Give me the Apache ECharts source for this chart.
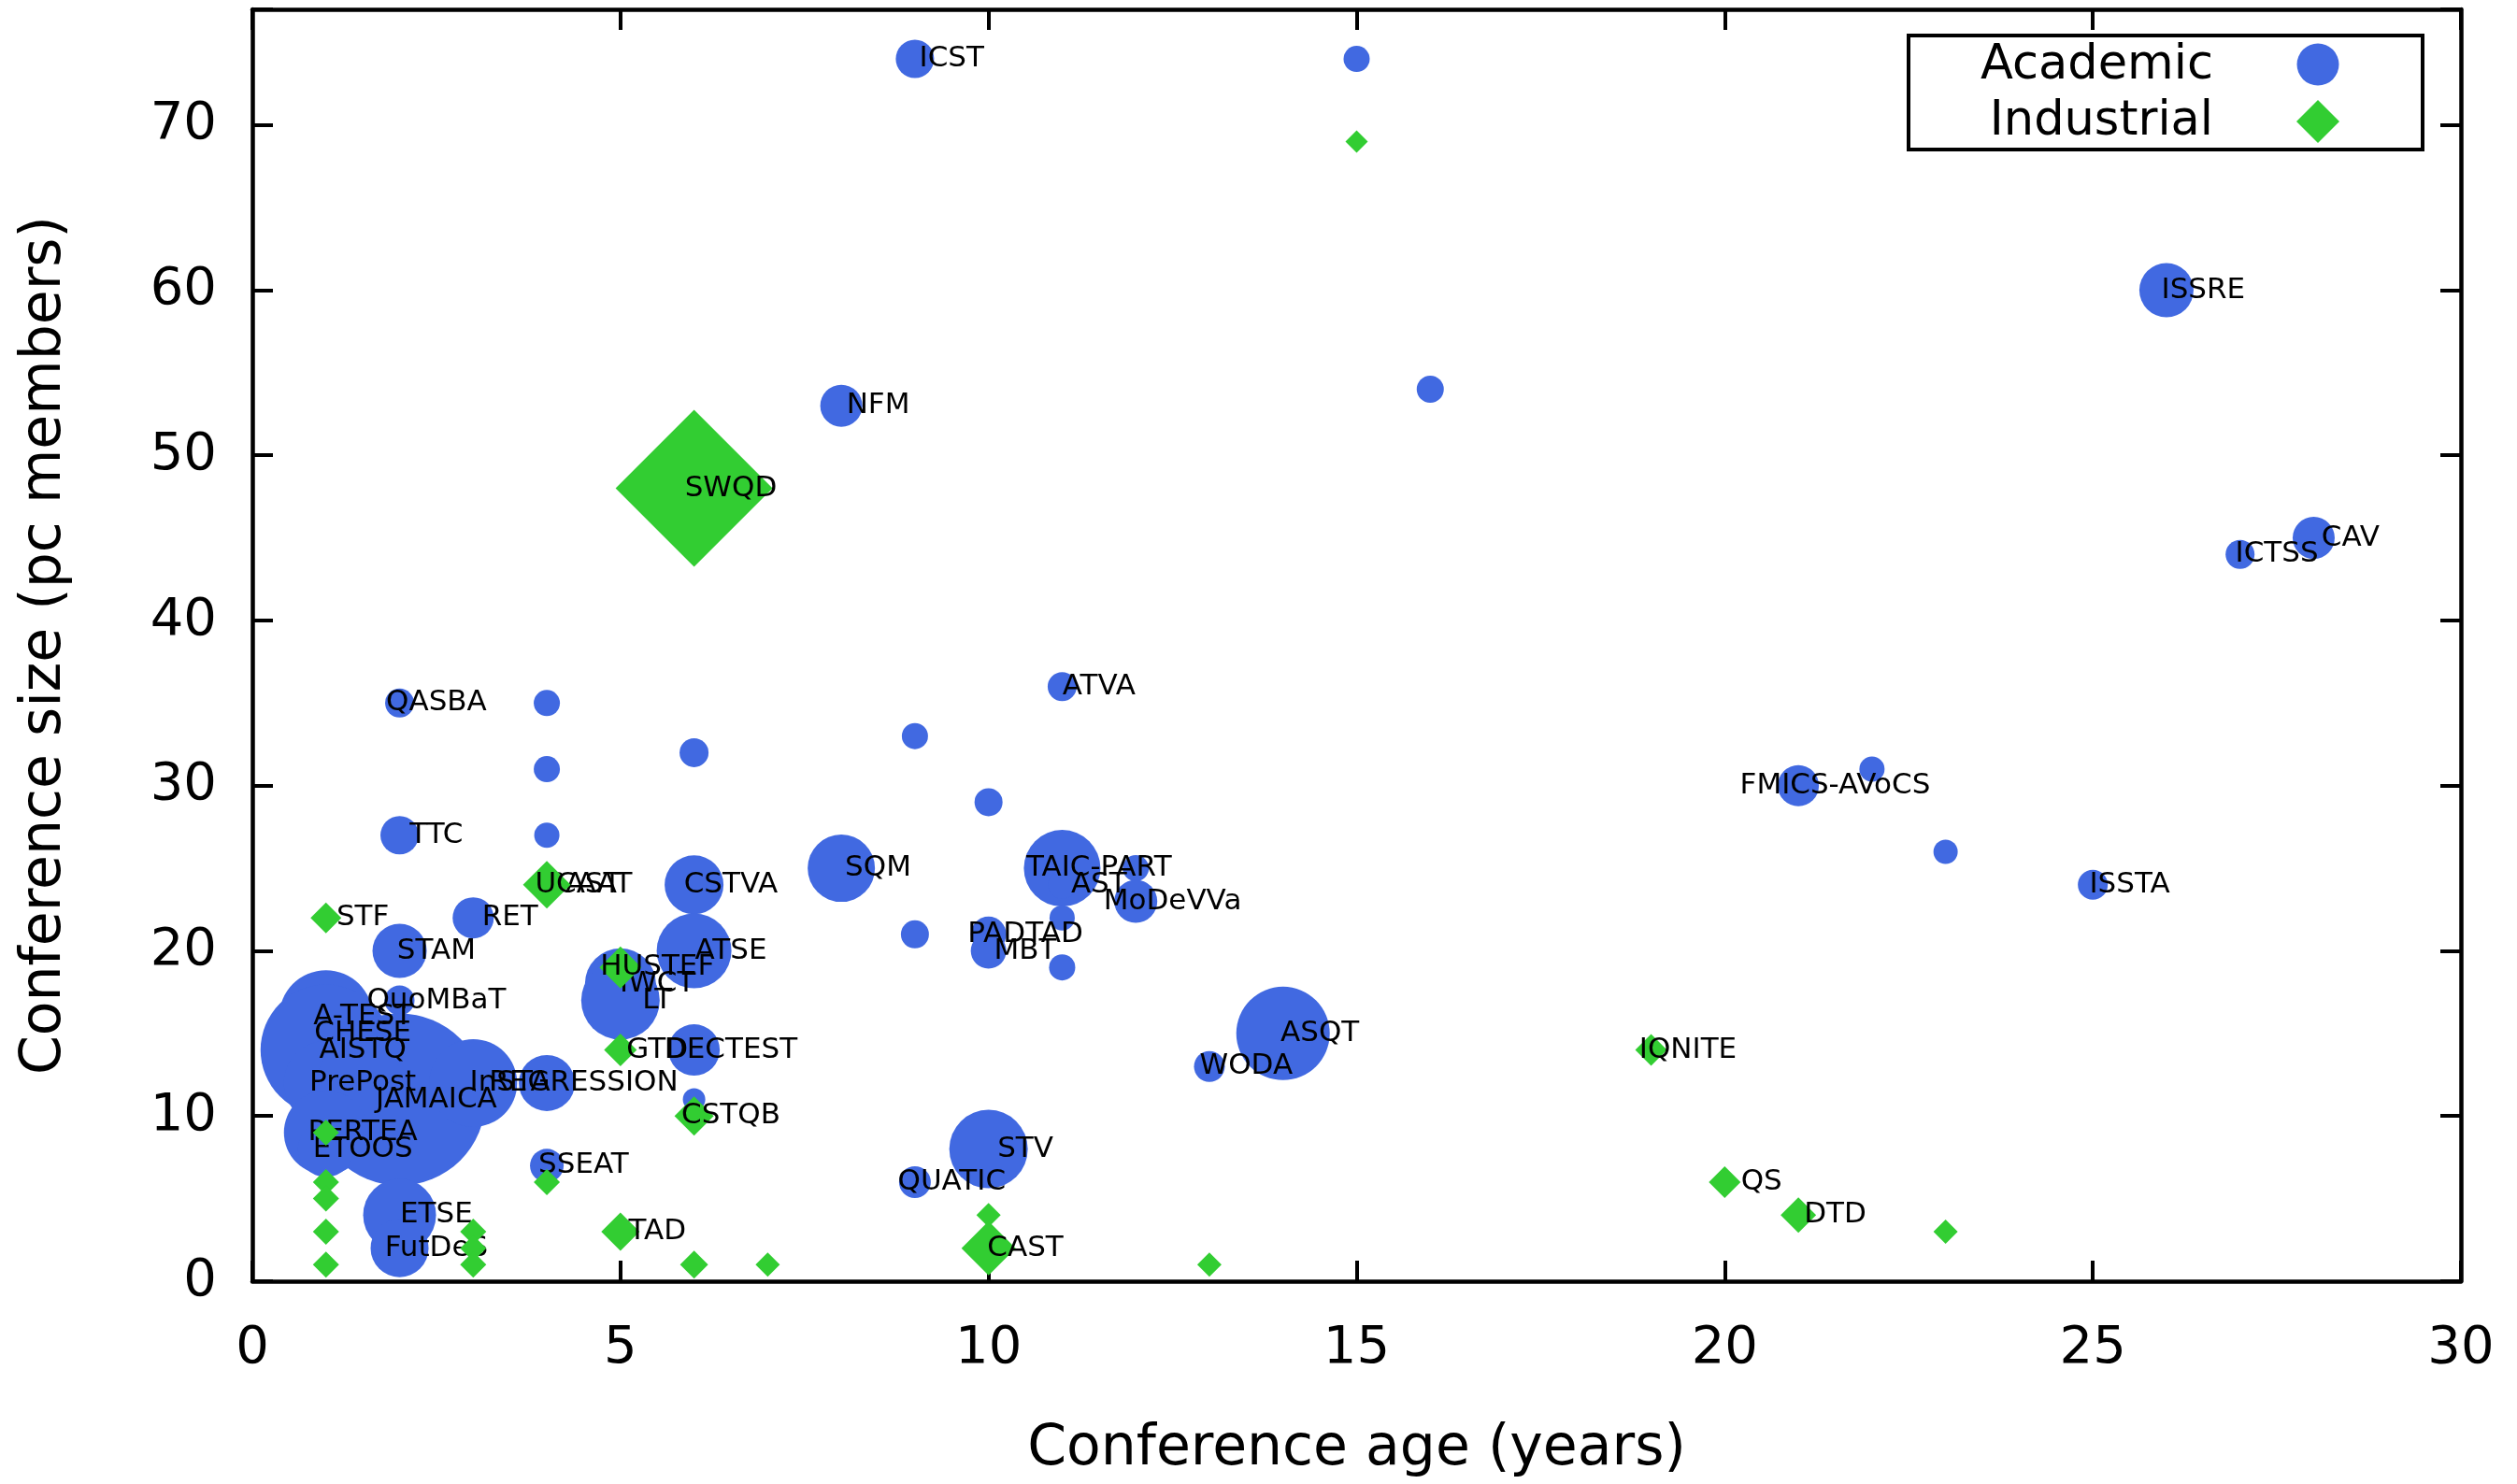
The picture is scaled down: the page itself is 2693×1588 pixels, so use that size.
<!DOCTYPE html>
<html>
<head>
<meta charset="utf-8">
<script src="https://cdn.jsdelivr.net/npm/echarts@6/dist/echarts.min.js"></script>
<style>
html,body{margin:0;padding:0;background:#ffffff;}
#chart{width:2693px;height:1588px;}
</style>
</head>
<body>
<div id="chart"></div>
<script>
// ---------- data ----------
const xTicks = [0, 5, 10, 15, 20, 25, 30];
const yTicks = [0, 10, 20, 30, 40, 50, 60, 70];

const academicName = ['ICST','','ISSRE','','NFM','CAV','ICTSS','ATVA','QASBA','','','','','FMICS-AVoCS','','','TTC','','','SQM','TAIC-PART','','AST','MoDeVVa','ISSTA','CSTVA','SAST','RET','','','PADTAD','MBT','','STAM','ATSE','IWCT','LT','QuoMBaT','A-TEST','CHESE','AISTQ','PrePost','JAMAICA','InSTA','REGRESSION','PERTEA','ETOOS','DECTEST','','SSEAT','ETSE','FutDeS','ASQT','WODA','STV','QUATIC'];
const academicAge  = [9,15,26,16,8,28,27,11,2,4,9,6,4,21,22,10,2,4,23,8,11,12,11,12,25,6,4,3,11,9,10,10,11,2,6,5,5,2,1,1,1,1,2,3,4,1,1,6,6,4,2,2,14,13,10,9];
const academicPc   = [74,74,60,54,53,45,44,36,35,35,33,32,31,30,31,29,27,27,26,25,25,25,24,23,24,24,24,22,22,21,21,20,19,20,20,18,17,17,16,15,14,12,11,12,12,9,8,14,11,7,4,2,15,13,8,6];
const academicWeight = [4.1,2.8,5.8,2.9,4.5,4.5,3.1,3.1,3.1,2.8,2.8,3.1,2.8,4.4,2.7,3.0,4.1,2.7,2.6,7.2,8.2,2.8,3.0,4.6,3.2,6.3,2.6,4.4,2.7,3.0,3.8,3.8,2.8,5.8,8.0,7.6,8.4,3.2,10.0,10.0,14.0,9.0,18.4,9.4,6.0,9.0,6.0,5.5,2.4,3.6,7.8,6.2,10.0,3.3,8.4,3.4];

const industrialName = ['','SWQD','UCAAT','STF','HUSTEF','GTD','CSTQB','IQNITE','QS','DTD','','','','','','CAST','TAD','','','','','','','','',''];
const industrialAge  = [15,6,4,1,5,5,6,19,20,21,23,13,7,6,10,10,5,4,1,1,1,1,1,3,3,3];
const industrialPc   = [69,48,24,22,19,14,10,14,6,4,3,1,1,1,4,2,3,6,9,6,5,3,1,3,2,1];
const industrialWeight = [2.4,16.8,5.1,3.3,4.5,3.5,4.2,3.4,3.4,3.8,2.6,2.6,2.6,3.0,2.6,5.8,4.1,2.8,2.8,2.8,2.8,2.8,2.8,2.8,2.8,2.8];

// ---------- build ----------
const SIZE_SCALE = 10;          // weight unit -> marker diameter
const LABEL_SHIFT = 0.5;        // labels centred half a year right of the point
const FONT = 'DejaVu Sans';

function points(age, pc, w) {
  return age.map((a, i) => [a, pc[i], w[i]]);
}
function labelPoints(age, pc, names) {
  const out = [];
  names.forEach((n, i) => { if (n) out.push([age[i] + LABEL_SHIFT, pc[i], n]); });
  return out;
}

const labelStyle = {
  show: true, position: 'inside', formatter: p => p.value[2],
  color: '#000', opacity: 1, fontSize: 31, fontFamily: FONT
};

const axisLineStyle = { show: true, onZero: false, lineStyle: { color: '#000', width: 4.5 } };
const tickStyle = { show: true, inside: true, length: 22, lineStyle: { color: '#000', width: 4 } };

const chart = echarts.init(document.getElementById('chart'), null, { renderer: 'canvas' });
chart.setOption({
  animation: false,
  backgroundColor: '#ffffff',
  grid: { left: 270, top: 10, width: 2363, height: 1361, containLabel: false, outerBoundsMode: 'none', show: false },
  xAxis: [
    {
      type: 'value', min: xTicks[0], max: xTicks[xTicks.length - 1], interval: xTicks[1] - xTicks[0], position: 'bottom',
      axisLine: axisLineStyle, axisTick: tickStyle, splitLine: { show: false },
      axisLabel: { color: '#000', fontSize: 56, fontFamily: FONT, margin: 44 },
      name: 'Conference age (years)', nameLocation: 'middle', nameGap: 150, nameMoveOverlap: false,
      nameTextStyle: { color: '#000', fontSize: 60, fontFamily: FONT }
    },
    {
      type: 'value', min: xTicks[0], max: xTicks[xTicks.length - 1], interval: xTicks[1] - xTicks[0], position: 'top',
      axisLine: axisLineStyle, axisTick: tickStyle, splitLine: { show: false }, axisLabel: { show: false }
    }
  ],
  yAxis: [
    {
      type: 'value', min: yTicks[0], max: 77, interval: yTicks[1] - yTicks[0], position: 'left',
      axisLine: axisLineStyle, axisTick: tickStyle, splitLine: { show: false },
      axisLabel: { color: '#000', fontSize: 56, fontFamily: FONT, margin: 38,
        formatter: v => (yTicks.indexOf(v) >= 0 ? String(v) : '') },
      name: 'Conference size (pc members)', nameLocation: 'middle', nameGap: 192, nameMoveOverlap: false,
      nameTextStyle: { color: '#000', fontSize: 60, fontFamily: FONT }
    },
    {
      type: 'value', min: yTicks[0], max: 77, interval: yTicks[1] - yTicks[0], position: 'right',
      axisLine: axisLineStyle, axisTick: tickStyle, splitLine: { show: false }, axisLabel: { show: false }
    }
  ],
  series: [
    {
      name: 'Academic', type: 'scatter', xAxisIndex: 0, yAxisIndex: 0, z: 2, silent: true,
      symbol: 'circle', symbolSize: v => v[2] * SIZE_SCALE,
      itemStyle: { color: '#4169E1', opacity: 1, borderWidth: 0 },
      data: points(academicAge, academicPc, academicWeight)
    },
    {
      name: 'Academic labels', type: 'scatter', z: 3, silent: true,
      symbolSize: 1, itemStyle: { color: 'rgba(0,0,0,0)' },
      label: labelStyle,
      data: labelPoints(academicAge, academicPc, academicName)
    },
    {
      name: 'Industrial', type: 'scatter', xAxisIndex: 0, yAxisIndex: 0, z: 4, silent: true,
      symbol: 'diamond', symbolSize: v => v[2] * SIZE_SCALE,
      itemStyle: { color: '#32CD32', opacity: 1, borderWidth: 0 },
      data: points(industrialAge, industrialPc, industrialWeight)
    },
    {
      name: 'Industrial labels', type: 'scatter', z: 5, silent: true,
      symbolSize: 1, itemStyle: { color: 'rgba(0,0,0,0)' },
      label: labelStyle,
      data: labelPoints(industrialAge, industrialPc, industrialName)
    }
  ],
  graphic: [
    { type: 'rect', z: 20, shape: { x: 2042, y: 38, width: 550, height: 122 },
      style: { fill: '#ffffff', stroke: '#000', lineWidth: 4 } },
    { type: 'text', z: 21, style: { text: 'Academic', x: 2368, y: 71, align: 'right', verticalAlign: 'middle',
      fontSize: 51, fontFamily: FONT, fill: '#000' } },
    { type: 'text', z: 21, style: { text: 'Industrial', x: 2368, y: 131, align: 'right', verticalAlign: 'middle',
      fontSize: 51, fontFamily: FONT, fill: '#000' } },
    { type: 'circle', z: 21, shape: { cx: 2480, cy: 69, r: 22.5 }, style: { fill: '#4169E1' } },
    { type: 'polygon', z: 21, shape: { points: [[2480, 107], [2503, 130], [2480, 153], [2457, 130]] },
      style: { fill: '#32CD32' } }
  ]
});
</script>
</body>
</html>
